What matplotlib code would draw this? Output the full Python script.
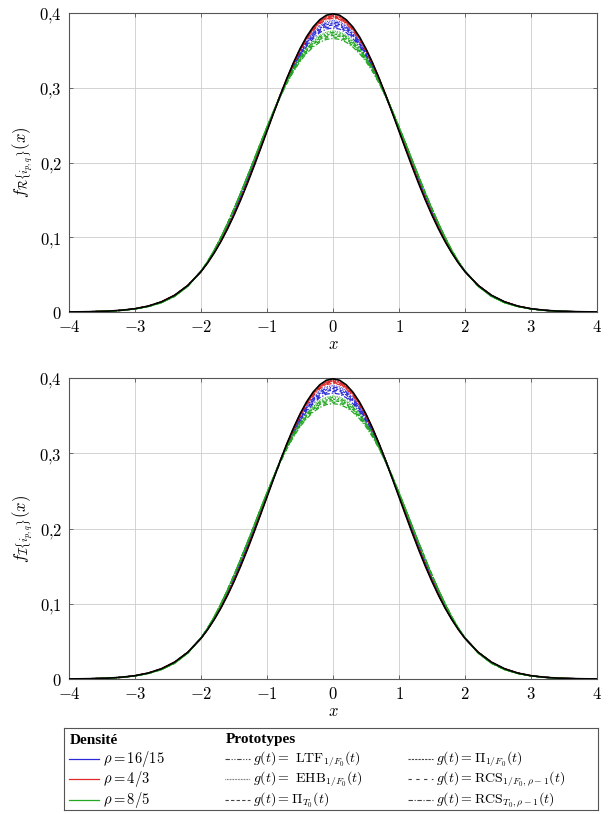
import numpy as np
import matplotlib
matplotlib.use("Agg")
import matplotlib.pyplot as plt

plt.rcParams['mathtext.fontset'] = 'cm'
plt.rcParams['font.family'] = ['DejaVu Serif']

# x grid (x >= 0, densities are symmetric)
x_half = [0.0, 0.1, 0.2, 0.3, 0.4, 0.5, 0.6, 0.7, 0.8, 0.9, 1.0,
          1.1, 1.2, 1.3, 1.4, 1.5, 1.6, 1.7, 1.8, 1.9, 2.0,
          2.2, 2.4, 2.6, 2.8, 3.0, 3.2, 3.4, 3.6, 3.8, 4.0]

# Gaussian reference (black)
gauss = [0.3989, 0.3970, 0.3910, 0.3814, 0.3683, 0.3521, 0.3332, 0.3123, 0.2897, 0.2661, 0.2420,
         0.2179, 0.1942, 0.1714, 0.1497, 0.1295, 0.1109, 0.0940, 0.0790, 0.0656, 0.0540,
         0.0355, 0.0224, 0.0136, 0.0079, 0.0044, 0.0024, 0.0012, 0.0006, 0.0003, 0.0001]

# tails (x = 1.1 .. 4.0) per rho
tail_blue = [0.2212, 0.1980, 0.1755, 0.1535, 0.1330, 0.1135, 0.0960, 0.0802, 0.0664, 0.0543,
             0.0354, 0.0222, 0.0134, 0.0078, 0.0043, 0.0023, 0.0012, 0.0006, 0.0003, 0.0001]
tail_red = [0.2190, 0.1955, 0.1728, 0.1510, 0.1307, 0.1118, 0.0946, 0.0795, 0.0660, 0.0542,
            0.0355, 0.0223, 0.0135, 0.0078, 0.0043, 0.0023, 0.0012, 0.0006, 0.0003, 0.0001]
tail_green = [0.2255, 0.2030, 0.1808, 0.1590, 0.1380, 0.1180, 0.0995, 0.0825, 0.0675, 0.0545,
              0.0345, 0.0210, 0.0125, 0.0073, 0.0041, 0.0022, 0.0011, 0.0006, 0.0003, 0.0001]

# heads (x = 0 .. 1.0) per prototype
# order: LTF, EHB, Pi_T0, Pi_1/F0, RCS_1/F0, RCS_T0
head_blue = [
    [0.3880, 0.3864, 0.3814, 0.3728, 0.3615, 0.3473, 0.3300, 0.3110, 0.2900, 0.2677, 0.2445],
    [0.3900, 0.3883, 0.3832, 0.3745, 0.3630, 0.3486, 0.3310, 0.3118, 0.2905, 0.2679, 0.2445],
    [0.3840, 0.3824, 0.3776, 0.3694, 0.3585, 0.3449, 0.3280, 0.3096, 0.2890, 0.2671, 0.2445],
    [0.3860, 0.3844, 0.3795, 0.3711, 0.3600, 0.3461, 0.3290, 0.3103, 0.2895, 0.2674, 0.2445],
    [0.3820, 0.3805, 0.3758, 0.3677, 0.3570, 0.3436, 0.3270, 0.3088, 0.2885, 0.2669, 0.2445],
    [0.3800, 0.3785, 0.3739, 0.3660, 0.3555, 0.3424, 0.3260, 0.3081, 0.2880, 0.2666, 0.2445],
]
head_red = [
    [0.3965, 0.3947, 0.3889, 0.3796, 0.3671, 0.3513, 0.3328, 0.3121, 0.2902, 0.2669, 0.2430],
    [0.3970, 0.3952, 0.3894, 0.3800, 0.3675, 0.3516, 0.3330, 0.3122, 0.2903, 0.2670, 0.2430],
    [0.3950, 0.3932, 0.3875, 0.3783, 0.3660, 0.3504, 0.3320, 0.3115, 0.2898, 0.2667, 0.2430],
    [0.3960, 0.3942, 0.3884, 0.3792, 0.3668, 0.3510, 0.3325, 0.3119, 0.2901, 0.2668, 0.2430],
    [0.3940, 0.3922, 0.3866, 0.3774, 0.3653, 0.3498, 0.3315, 0.3111, 0.2896, 0.2666, 0.2430],
    [0.3930, 0.3912, 0.3856, 0.3766, 0.3645, 0.3492, 0.3310, 0.3108, 0.2893, 0.2664, 0.2430],
]
head_green = [
    [0.3740, 0.3726, 0.3684, 0.3614, 0.3520, 0.3400, 0.3255, 0.3085, 0.2895, 0.2691, 0.2475],
    [0.3760, 0.3745, 0.3702, 0.3631, 0.3535, 0.3413, 0.3265, 0.3093, 0.2900, 0.2693, 0.2475],
    [0.3700, 0.3686, 0.3646, 0.3580, 0.3490, 0.3376, 0.3235, 0.3071, 0.2885, 0.2685, 0.2475],
    [0.3720, 0.3706, 0.3665, 0.3597, 0.3505, 0.3388, 0.3245, 0.3078, 0.2890, 0.2688, 0.2475],
    [0.3680, 0.3667, 0.3628, 0.3563, 0.3475, 0.3363, 0.3225, 0.3063, 0.2880, 0.2683, 0.2475],
    [0.3660, 0.3647, 0.3609, 0.3546, 0.3460, 0.3351, 0.3215, 0.3056, 0.2875, 0.2680, 0.2475],
]

rho_labels = [r'$\rho = 16/15$', r'$\rho = 4/3$', r'$\rho = 8/5$']
rho_colors = ['#2a2ad8', '#e02828', '#22a822']
proto_labels = [r'$g(t) =\ \mathrm{LTF}_{1/F_0}(t)$',
                r'$g(t) =\ \mathrm{EHB}_{1/F_0}(t)$',
                r'$g(t) = \Pi_{T_0}(t)$',
                r'$g(t) = \Pi_{1/F_0}(t)$',
                r'$g(t) = \mathrm{RCS}_{1/F_0,\rho-1}(t)$',
                r'$g(t) = \mathrm{RCS}_{T_0,\rho-1}(t)$']
proto_styles = [(0, (4, 1.5, 1, 1.5, 1, 1.5)),
                (0, (0.6, 0.8)),
                (0, (3, 2)),
                (0, (2, 1)),
                (0, (3, 4)),
                (0, (4, 1.5, 1, 1.5))]

xticks = [-4, -3, -2, -1, 0, 1, 2, 3, 4]
yticks = [0, 0.1, 0.2, 0.3, 0.4]
ytick_labels = [r'$0$', r'$0{,}1$', r'$0{,}2$', r'$0{,}3$', r'$0{,}4$']
ylabels = [r'$f_{\mathcal{R}\{i_{p,q}\}}(x)$', r'$f_{\mathcal{I}\{i_{p,q}\}}(x)$']


def full(half):
    xs = np.array(x_half)
    ys = np.array(half)
    return np.concatenate([-xs[:0:-1], xs]), np.concatenate([ys[:0:-1], ys])


fig = plt.figure(figsize=(6.08, 8.14), dpi=100)
ax_pos = [[69/608, 1-312/814, 528/608, 299/814],
          [69/608, 1-679/814, 528/608, 301/814]]

heads = [head_blue, head_red, head_green]
tails = [tail_blue, tail_red, tail_green]

for k in range(2):
    ax = fig.add_axes(ax_pos[k])
    for c in range(3):
        for p in range(6):
            xx, yy = full(heads[c][p] + tails[c])
            ax.plot(xx, yy, color=rho_colors[c], lw=0.9, ls=proto_styles[p], zorder=2)
    xx, yy = full(gauss)
    ax.plot(xx, yy, color='black', lw=1.2, zorder=3)
    ax.set_xlim(-4, 4)
    ax.set_ylim(0, 0.4)
    ax.set_xticks(xticks)
    ax.set_xticklabels([r'$%d$' % v if v >= 0 else r'$-%d$' % (-v) for v in xticks])
    ax.set_yticks(yticks)
    ax.set_yticklabels(ytick_labels)
    ax.tick_params(labelsize=12, direction='in', length=3, width=0.6,
                   top=True, right=True, color='#555555')
    ax.tick_params(axis='x', pad=5)
    ax.tick_params(axis='y', pad=5)
    ax.grid(True, color='#cccccc', lw=0.6)
    ax.set_axisbelow(True)
    for s in ax.spines.values():
        s.set_color('#555555')
        s.set_linewidth(0.8)
    ax.set_xlabel(r'$x$', fontsize=12, labelpad=0)
    ax.set_ylabel(ylabels[k], fontsize=12, labelpad=3)

# legend box
lg = fig.add_axes([64/608, 1-810/814, 534/608, 82/814])
lg.set_xlim(0, 534)
lg.set_ylim(82, 0)
lg.set_xticks([])
lg.set_yticks([])
for s in lg.spines.values():
    s.set_color('#555555')
    s.set_linewidth(0.8)

row_y = [31, 51, 72]
lg.text(6, 12, 'Densité', fontsize=11, fontweight='bold', va='center', family='Liberation Serif')
lg.text(162, 12, 'Prototypes', fontsize=11, fontweight='bold', va='center', family='Liberation Serif')
for i in range(3):
    lg.plot([5, 35], [row_y[i]] * 2, color=rho_colors[i], lw=0.9)
    lg.text(39, row_y[i], rho_labels[i], fontsize=10.5, va='center')
for p in range(6):
    col = p // 3
    r = p % 3
    x0 = 161 if col == 0 else 344
    lg.plot([x0, x0 + 25], [row_y[r]] * 2, color='#444444', lw=0.8, ls=proto_styles[p])
    lg.text(x0 + 28, row_y[r], proto_labels[p], fontsize=10, va='center')

fig.savefig('out.png', dpi=100)
